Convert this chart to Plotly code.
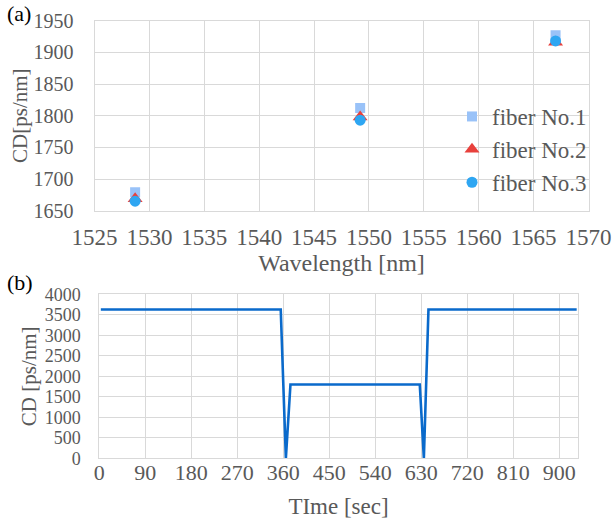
import plotly.graph_objects as go

# ---- data: panel (a) ----
wavelength = [1528.7, 1549.2, 1567.0]
fiber1 = [1679, 1812, 1927]
fiber2 = [1669, 1798, 1916]
fiber3 = [1665, 1793, 1918]
series_names = ["fiber No.1", "fiber No.2", "fiber No.3"]

# ---- data: panel (b) ----
time_sec = [3, 355, 365, 374, 627, 635, 644, 934]
cd_time = [3630, 3630, 0, 1800, 1800, 0, 3630, 3630]

a_xticks = [1525, 1530, 1535, 1540, 1545, 1550, 1555, 1560, 1565, 1570]
a_yticks = [1650, 1700, 1750, 1800, 1850, 1900, 1950]
b_xticks = [0, 90, 180, 270, 360, 450, 540, 630, 720, 810, 900]
b_yticks = [0, 500, 1000, 1500, 2000, 2500, 3000, 3500, 4000]

W, H = 614, 521
FONT = "'Liberation Serif', 'Times New Roman', serif"
TXT = "#595959"
GRID = "#d9d9d9"

def px_x(p):
    return p / W

def px_y(p):
    return 1 - p / H

def f(size, color=TXT):
    return dict(family=FONT, size=size, color=color)

fig = go.Figure()

fig.add_trace(go.Scatter(x=wavelength, y=fiber1, mode="markers", name=series_names[0],
                         legendgroup="g1",
                         marker=dict(symbol="square", size=10, color="#99c2f8"),
                         xaxis="x", yaxis="y"))
fig.add_trace(go.Scatter(x=wavelength, y=fiber2, mode="markers", name=series_names[1],
                         legendgroup="g2",
                         marker=dict(symbol="triangle-up", size=13, color="#e8403c"),
                         xaxis="x", yaxis="y"))
fig.add_trace(go.Scatter(x=wavelength, y=fiber3, mode="markers", name=series_names[2],
                         legendgroup="g3",
                         marker=dict(symbol="circle", size=11, color="#2ea6f2"),
                         xaxis="x", yaxis="y"))

fig.add_trace(go.Scatter(x=time_sec, y=cd_time, mode="lines", showlegend=False,
                         line=dict(color="#0a6acb", width=2.6),
                         xaxis="x2", yaxis="y2"))

axis_common = dict(showgrid=True, gridcolor=GRID, gridwidth=1, showline=True,
                   linecolor=GRID, linewidth=1, mirror=True, zeroline=False,
                   ticks="", automargin=False)

fig.update_layout(
    width=W, height=H,
    margin=dict(l=0, r=0, t=0, b=0),
    paper_bgcolor="white", plot_bgcolor="white",
    font=f(18),
    xaxis=dict(axis_common, domain=[px_x(94.5), px_x(588.5)], range=[1525, 1570],
               tickvals=a_xticks, tickfont=f(23), anchor="y",
               ticklabelstandoff=6,
               title=dict(text="Wavelength [nm]", font=f(24), standoff=1)),
    yaxis=dict(axis_common, domain=[px_y(210.7), px_y(20.7)], range=[1650, 1950],
               tickvals=a_yticks, tickfont=f(20), anchor="x",
               ticklabelstandoff=16,
               title=dict(text="CD[ps/nm]", font=f(21), standoff=0)),
    xaxis2=dict(axis_common, domain=[px_x(99.3), px_x(577.7)], range=[0, 936],
                tickvals=b_xticks, tickfont=f(22), anchor="y2",
                ticklabelstandoff=-6,
                title=dict(text="TIme [sec]", font=f(23), standoff=14)),
    yaxis2=dict(axis_common, domain=[px_y(458.3), px_y(294.3)], range=[0, 4000],
                tickvals=b_yticks, tickfont=f(18), anchor="x2",
                ticklabelstandoff=14,
                title=dict(text="CD [ps/nm]", font=f(21), standoff=2)),
    legend=dict(x=px_x(452), y=px_y(95), xanchor="left", yanchor="top",
                font=f(23), bgcolor="rgba(0,0,0,0)",
                tracegroupgap=0, itemwidth=30),
    annotations=[
        dict(text="(a)", x=px_x(5), y=px_y(14), xref="paper", yref="paper",
             xanchor="left", yanchor="middle", showarrow=False,
             font=f(22, "#000000")),
        dict(text="(b)", x=px_x(5), y=px_y(282), xref="paper", yref="paper",
             xanchor="left", yanchor="middle", showarrow=False,
             font=f(22, "#000000")),
    ],
)

fig.write_html("out.html", config={"displayModeBar": False},
               post_script="document.body.style.margin='0';")
